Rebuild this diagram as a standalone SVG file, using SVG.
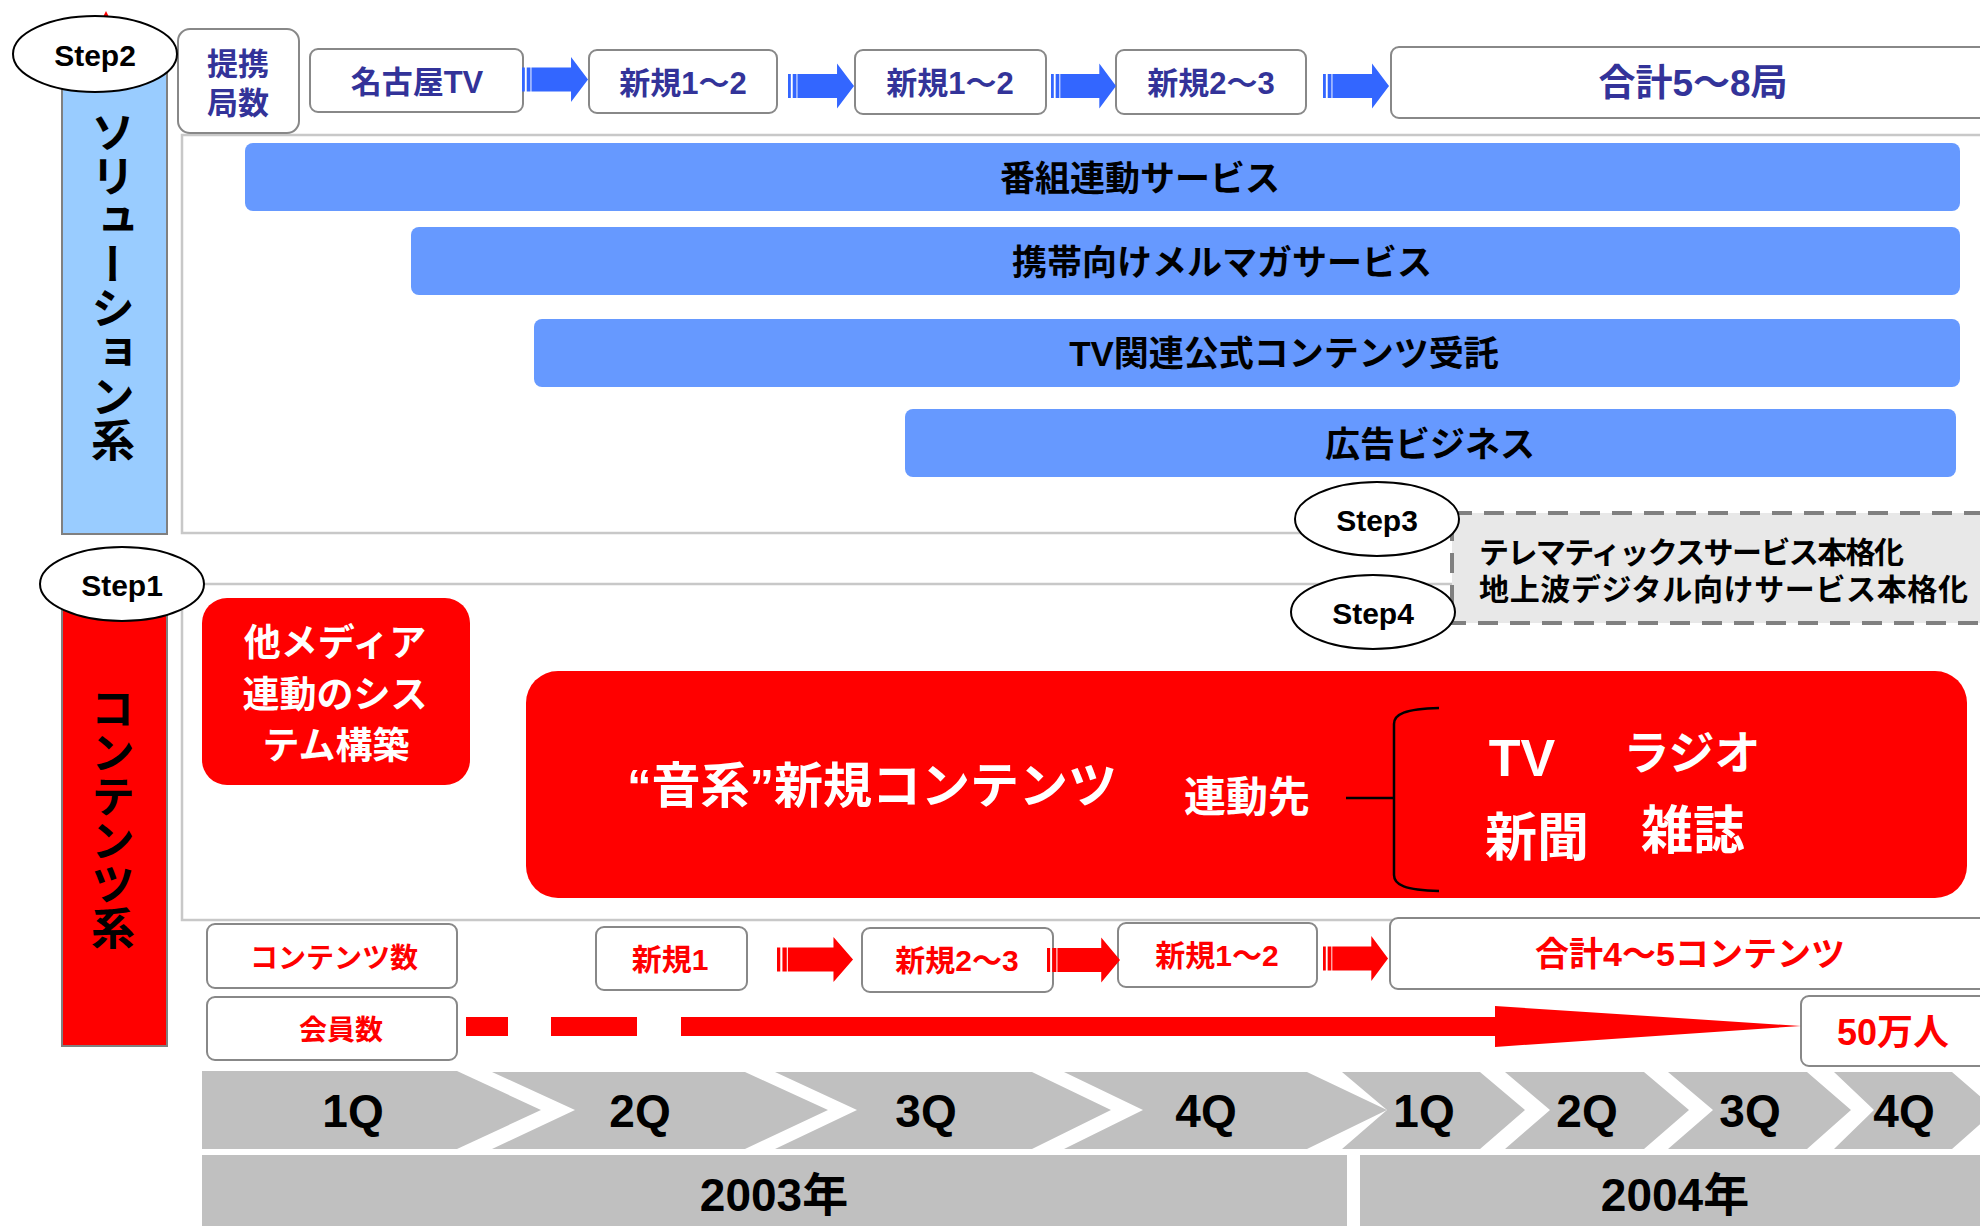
<svg xmlns="http://www.w3.org/2000/svg" width="1980" height="1226" viewBox="0 0 1980 1226">
<style>
text { font-family: "Liberation Sans", "Noto Sans CJK JP", sans-serif; font-weight: bold; text-anchor: middle; dominant-baseline: central; }
.vt { font-family: "Noto Sans CJK JP", sans-serif; writing-mode: vertical-rl; font-size: 44px; fill: #000; }
.box { fill: #fff; stroke: #888; stroke-width: 2; }
.panel { fill: none; stroke: #C8C8C8; stroke-width: 2.5; }
.bar { fill: #6699FF; }
.ell { fill: #fff; stroke: #000; stroke-width: 2; }
.nv { fill: #333399; font-size: 31px; }
.rt { fill: #FF0000; font-size: 30px; }
.wt { fill: #fff; }
.chev { fill: #C0C0C0; }
.q { font-size: 46px; fill: #000; }
.step { font-size: 30px; fill: #000; }
.bt { font-size: 35px; fill: #000; }
.ab { fill: #3366FF; }
.ar { fill: #FF0000; }
</style>
<defs>
<path id="arr" d="M0,-12 h3 v24 h-3z M5,-12 h4 v24 h-4z M10,-12 H52 V-22.5 L70,0 L52,22.5 V12 H10z"/>
</defs>

<!-- panels -->
<g id="panels">
<rect class="panel" x="182" y="135" width="1830" height="398"/>
<rect class="panel" x="182" y="584" width="1830" height="336"/>
</g>

<!-- category bars -->
<g id="solution-bar">
<polygon points="103,17 106,11 109,17" fill="#FF0000"/>
<rect x="62" y="60" width="105" height="474" fill="#99CCFF" stroke="#808080" stroke-width="2"/>
<text class="vt" x="113" y="286">ソリューション系</text>
</g>
<g id="content-bar">
<rect x="62" y="590" width="105" height="456" fill="#FF0000" stroke="#808080" stroke-width="2"/>
<text class="vt" x="113" y="818">コンテンツ系</text>
</g>

<!-- top row -->
<g id="teikei">
<rect class="box" x="178" y="29" width="121" height="104" rx="12"/>
<text class="nv" x="238" y="64">提携</text>
<text class="nv" x="238" y="103">局数</text>
</g>
<g id="nagoya"><rect class="box" x="310" y="49" width="213" height="63" rx="8"/><text class="nv" x="417" y="82">名古屋TV</text></g>
<g id="top-new1"><rect class="box" x="589" y="50" width="188" height="63" rx="8"/><text class="nv" x="683" y="83">新規1～2</text></g>
<g id="top-new2"><rect class="box" x="855" y="50" width="191" height="64" rx="8"/><text class="nv" x="950" y="83">新規1～2</text></g>
<g id="top-new3"><rect class="box" x="1116" y="50" width="190" height="64" rx="8"/><text class="nv" x="1211" y="83">新規2～3</text></g>
<g id="top-total"><rect class="box" x="1391" y="47" width="620" height="71" rx="8"/><text class="nv" x="1693" y="83" style="font-size:37px">合計5～8局</text></g>

<!-- service bars -->
<g id="svc1"><rect class="bar" x="245" y="143" width="1715" height="68" rx="8"/><text class="bt" x="1140" y="178">番組連動サービス</text></g>
<g id="svc2"><rect class="bar" x="411" y="227" width="1549" height="68" rx="8"/><text class="bt" x="1222" y="262">携帯向けメルマガサービス</text></g>
<g id="svc3"><rect class="bar" x="534" y="319" width="1426" height="68" rx="8"/><text class="bt" x="1284" y="353">TV関連公式コンテンツ受託</text></g>
<g id="svc4"><rect class="bar" x="905" y="409" width="1051" height="68" rx="8"/><text class="bt" x="1430" y="444">広告ビジネス</text></g>

<!-- step 3/4 box -->
<g id="step34-box">
<rect x="1452" y="513" width="560" height="110" fill="#E8E8E8" stroke="#808080" stroke-width="4" stroke-dasharray="20 12"/>
<text x="1479" y="552" style="text-anchor:start;font-size:30px" fill="#000" textLength="425" lengthAdjust="spacing">テレマティックスサービス本格化</text>
<text x="1479" y="589" style="text-anchor:start;font-size:30px" fill="#000" textLength="489" lengthAdjust="spacing">地上波デジタル向けサービス本格化</text>
</g>

<!-- contents -->
<g id="media-system">
<rect x="202" y="598" width="268" height="187" rx="25" fill="#FF0000"/>
<text class="wt" x="335" y="643" style="font-size:37px">他メディア</text>
<text class="wt" x="335" y="695" style="font-size:37px">連動のシス</text>
<text class="wt" x="336" y="746" style="font-size:37px">テム構築</text>
</g>
<g id="music-contents">
<rect x="526" y="671" width="1441" height="227" rx="32" fill="#FF0000"/>
<text class="wt" x="872" y="786" style="font-size:49px">“音系”新規コンテンツ</text>
<text class="wt" x="1247" y="797" style="font-size:42px">連動先</text>
<path d="M1346,798 H1394 M1439,708 C1405,709 1394,714 1394,724 L1394,875 C1394,885 1405,890 1439,891" fill="none" stroke="#000" stroke-width="2.5"/>
<text class="wt" x="1522" y="758" style="font-size:52px">TV</text>
<text class="wt" x="1692" y="753" style="font-size:46px">ラジオ</text>
<text class="wt" x="1537" y="838" style="font-size:52px">新聞</text>
<text class="wt" x="1693" y="831" style="font-size:52px">雑誌</text>
</g>

<!-- contents count row -->
<g id="cnt-label"><rect class="box" x="207" y="924" width="250" height="64" rx="8"/><text class="rt" x="334" y="958" style="font-size:28px">コンテンツ数</text></g>
<g id="cnt-new1"><rect class="box" x="596" y="927" width="151" height="63" rx="8"/><text class="rt" x="670" y="959">新規1</text></g>
<g id="cnt-new2"><rect class="box" x="862" y="928" width="191" height="64" rx="8"/><text class="rt" x="957" y="960">新規2～3</text></g>
<g id="cnt-new3"><rect class="box" x="1118" y="923" width="199" height="64" rx="8"/><text class="rt" x="1217" y="955">新規1～2</text></g>
<g id="cnt-total"><rect class="box" x="1390" y="918" width="620" height="71" rx="8"/><text class="rt" x="1690" y="954" style="font-size:34px">合計4～5コンテンツ</text></g>

<!-- members row -->
<g id="mem-label"><rect class="box" x="207" y="997" width="250" height="63" rx="8"/><text class="rt" x="341" y="1030" style="font-size:28px">会員数</text></g>
<g id="mem-total"><rect class="box" x="1801" y="996" width="210" height="70" rx="8"/><text class="rt" x="1893" y="1032" style="font-size:36px">50万人</text></g>

<!-- connectors -->
<g id="connectors">
<use href="#arr" class="ab" transform="translate(522,79.5) scale(0.943,1)"/>
<use href="#arr" class="ab" transform="translate(788,86) scale(0.943,1)"/>
<use href="#arr" class="ab" transform="translate(1051,86) scale(0.929,1)"/>
<use href="#arr" class="ab" transform="translate(1323,86) scale(0.943,1)"/>
<use href="#arr" class="ar" transform="translate(777,959.5) scale(1.086,1)"/>
<use href="#arr" class="ar" transform="translate(1047,960) scale(1.043,1)"/>
<use href="#arr" class="ar" transform="translate(1323,958.5) scale(0.929,1)"/>
<g fill="#FF0000">
<rect x="466" y="1017" width="42" height="19"/>
<rect x="551" y="1017" width="86" height="19"/>
<rect x="681" y="1017" width="815" height="19"/>
<polygon points="1495,1006 1801,1026 1495,1047"/>
</g>
</g>

<!-- quarters -->
<g id="quarters">
<polygon class="chev" points="202,1071 457,1071 541,1110 457,1149 202,1149"/>
<polygon class="chev" points="492,1072 745,1072 828,1110 745,1149 492,1149 575,1110"/>
<polygon class="chev" points="775,1072 1032,1072 1111,1110 1032,1149 775,1149 857,1110"/>
<polygon class="chev" points="1064,1072 1307,1072 1387,1110 1307,1149 1064,1149 1143,1110"/>
<polygon class="chev" points="1342,1072 1480,1072 1525,1110 1480,1149 1342,1149 1387,1110"/>
<polygon class="chev" points="1505,1072 1644,1072 1689,1110 1644,1149 1505,1149 1550,1110"/>
<polygon class="chev" points="1668,1072 1807,1072 1851,1110 1807,1149 1668,1149 1713,1110"/>
<polygon class="chev" points="1834,1072 1952,1072 1996,1110 1952,1149 1834,1149 1874,1110"/>
<text class="q" x="353" y="1111">1Q</text>
<text class="q" x="640" y="1111">2Q</text>
<text class="q" x="926" y="1111">3Q</text>
<text class="q" x="1206" y="1111">4Q</text>
<text class="q" x="1424" y="1111">1Q</text>
<text class="q" x="1587" y="1111">2Q</text>
<text class="q" x="1750" y="1111">3Q</text>
<text class="q" x="1904" y="1111">4Q</text>
</g>
<g id="years">
<rect class="chev" x="202" y="1155" width="1145" height="71"/>
<rect class="chev" x="1360" y="1155" width="620" height="71"/>
<text class="q" x="774" y="1195">2003年</text>
<text class="q" x="1675" y="1195">2004年</text>
</g>

<!-- steps -->
<g id="step2"><ellipse class="ell" cx="95" cy="54" rx="82" ry="38"/><text class="step" x="95" y="55">Step2</text></g>
<g id="step1"><ellipse class="ell" cx="122" cy="584" rx="82" ry="37"/><text class="step" x="122" y="585">Step1</text></g>
<g id="step3"><ellipse class="ell" cx="1377" cy="519" rx="82" ry="37"/><text class="step" x="1377" y="520">Step3</text></g>
<g id="step4"><ellipse class="ell" cx="1373" cy="612" rx="82" ry="37"/><text class="step" x="1373" y="613">Step4</text></g>
</svg>
